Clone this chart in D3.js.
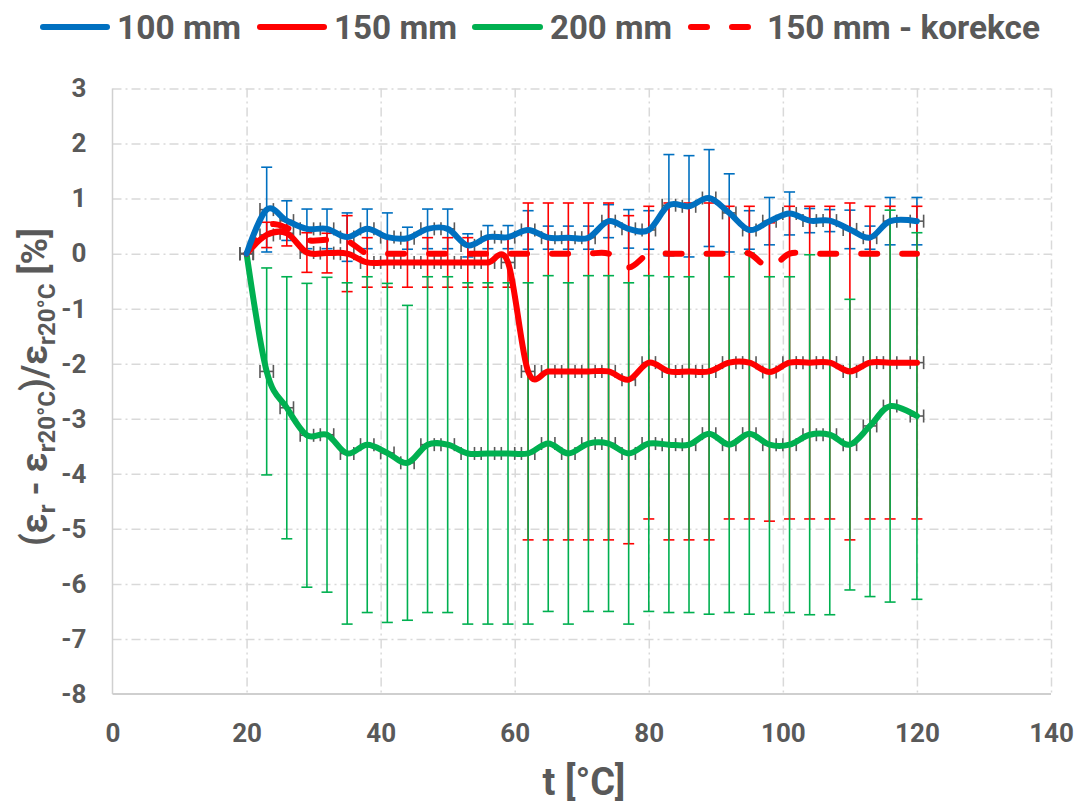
<!DOCTYPE html>
<html>
<head>
<meta charset="utf-8">
<script src="https://cdn.jsdelivr.net/npm/d3@7"></script>
<style>
  body { margin: 0; background: #fff; }
  svg text { font-family: Roboto, 'Open Sans', sans-serif; font-weight: bold; fill: #595959; }
</style>
</head>
<body>
<svg id="chart" width="1076" height="805"></svg>
<script>
// temperatures [°C]
var temps = [20, 23, 26, 29, 32, 35, 38, 41, 44, 47, 50, 53, 56, 59, 62, 65, 68,
  71, 74, 77, 80, 83, 86, 89, 92, 95, 98, 101, 104, 107, 110, 113, 116, 120];

// 100 mm
var val100 = [0, 0.80, 0.60, 0.45, 0.45, 0.30, 0.45, 0.30, 0.28, 0.45, 0.45, 0.15, 0.30, 0.30,
  0.43, 0.29, 0.29, 0.29, 0.59, 0.45, 0.43, 0.88, 0.86, 1.01, 0.74, 0.43, 0.59, 0.73, 0.60,
  0.60, 0.44, 0.29, 0.59, 0.59];
var err100 = [0, 0.77, 0.36, 0.36, 0.36, 0.44, 0.36, 0.44, 0.20, 0.36, 0.36, 0.21, 0.21, 0.21,
  0.35, 0.21, 0.21, 0.21, 0.30, 0.35, 0.35, 0.92, 0.92, 0.88, 0.71, 0.35, 0.43, 0.39, 0.22,
  0.20, 0.35, 0.21, 0.43, 0.43];

// 150 mm
var val150 = [0, 0.34, 0.37, 0.02, 0.01, 0.00, -0.16, -0.16, -0.16, -0.16, -0.16, -0.16, -0.16,
  -0.16, -2.14, -2.14, -2.14, -2.14, -2.14, -2.29, -1.98, -2.14, -2.14, -2.14, -1.98, -1.98,
  -2.15, -1.98, -1.98, -1.98, -2.14, -1.98, -1.98, -1.98];
var err150 = [0, 0.23, 0.23, 0.36, 0.36, 0.69, 0.45, 0.45, 0.45, 0.45, 0.45, 0.45, 0.45, 0.45,
  3.06, 3.06, 3.06, 3.06, 3.06, 2.98, 2.84, 3.06, 3.06, 3.06, 2.84, 2.84, 2.71, 2.84, 2.84,
  2.84, 3.06, 2.84, 2.84, 2.84];

// 200 mm
var val200 = [0, -2.14, -2.80, -3.30, -3.29, -3.63, -3.47, -3.62, -3.80, -3.47, -3.47, -3.63,
  -3.63, -3.63, -3.63, -3.45, -3.63, -3.45, -3.45, -3.63, -3.45, -3.47, -3.47, -3.27, -3.47,
  -3.27, -3.47, -3.47, -3.29, -3.29, -3.47, -3.13, -2.77, -2.95];
var err200 = [0, 1.88, 2.38, 2.76, 2.86, 3.10, 3.05, 3.08, 2.86, 3.05, 3.05, 3.10, 3.10, 3.10,
  3.10, 3.05, 3.10, 3.05, 3.05, 3.10, 3.05, 3.05, 3.05, 3.28, 3.05, 3.28, 3.05, 3.05, 3.27,
  3.27, 2.64, 3.10, 3.56, 3.33];

// 150 mm - korekce
var val150k = [0, 0.50, 0.47, 0.25, 0.25, 0.23, 0.00, 0, 0, 0, 0, 0, 0, 0, 0, 0, 0, 0, 0,
  -0.25, 0, 0, 0, 0, 0, 0, -0.25, 0, 0, 0, 0, 0, 0, 0];

var tempErr = 1.0;

var xTicks = [0, 20, 40, 60, 80, 100, 120, 140];
var yTicks = [-8, -7, -6, -5, -4, -3, -2, -1, 0, 1, 2, 3];

var series = [
  { name: '100 mm', color: '#0070C0', values: val100, errs: err100 },
  { name: '150 mm', color: '#FF0000', values: val150, errs: err150 },
  { name: '200 mm', color: '#00B050', values: val200, errs: err200 },
  { name: '150 mm - korekce', color: '#FF0000', values: val150k, errs: null, dashed: true }
];

var svg = d3.select('#chart');

var x = d3.scaleLinear().domain([0, 140]).range([112.5, 1051]);
var y = d3.scaleLinear().domain([-8, 3]).range([694, 88.5]);

var W = x(140) - x(0), H = y(-8) - y(3);

// gridlines
var gridStyle = function(g) {
  g.select('.domain').remove();
  g.selectAll('.tick line')
    .attr('stroke', '#d9d9d9')
    .attr('stroke-width', 1.5)
    .attr('stroke-dasharray', '9,4,2,4');
};

svg.append('g')
  .attr('transform', 'translate(' + x(0) + ',0)')
  .call(d3.axisLeft(y).tickValues(yTicks.filter(function(d) { return d > -8; })).tickSize(-W).tickFormat(''))
  .call(gridStyle);

svg.append('g')
  .attr('transform', 'translate(0,' + y(3) + ')')
  .call(d3.axisBottom(x).tickValues(xTicks.filter(function(d) { return d > 0; })).tickSize(H).tickFormat(''))
  .call(gridStyle);

// axis lines
svg.append('line')
  .attr('x1', x(0)).attr('x2', x(140)).attr('y1', y(-8)).attr('y2', y(-8))
  .attr('stroke', '#bfbfbf').attr('stroke-width', 1.5);
svg.append('line')
  .attr('x1', x(0)).attr('x2', x(0)).attr('y1', y(3)).attr('y2', y(-8))
  .attr('stroke', '#d0d0d0').attr('stroke-width', 1.5);

// tick labels (plain hyphen for negatives, as in the original)
var plain = function(d) { return String(d); };
var yAxis = svg.append('g')
  .attr('transform', 'translate(' + x(0) + ',0)')
  .call(d3.axisLeft(y).tickValues(yTicks).tickSize(0).tickPadding(26).tickFormat(plain));
var xAxis = svg.append('g')
  .attr('transform', 'translate(0,' + y(-8) + ')')
  .call(d3.axisBottom(x).tickValues(xTicks).tickSize(0).tickPadding(30).tickFormat(plain));
[yAxis, xAxis].forEach(function(g) {
  g.select('.domain').remove();
  g.selectAll('text')
    .attr('fill', '#595959')
    .style('font-family', 'Roboto, sans-serif')
    .style('font-weight', 'bold')
    .style('font-size', '26px');
});

// y error bars
var capW = 5.5;
var errLayer = svg.append('g');
[series[0], series[1], series[2]].forEach(function(s) {
  var g = errLayer.append('g')
    .attr('stroke', s.color)
    .attr('stroke-width', 1.6)
    .attr('fill', 'none');
  temps.forEach(function(t, i) {
    var e = s.errs[i];
    if (!e) return;
    var cx = x(t), top = y(s.values[i] + e), bot = y(s.values[i] - e);
    g.append('line').attr('x1', cx).attr('x2', cx).attr('y1', top).attr('y2', bot);
    g.append('line').attr('x1', cx - capW).attr('x2', cx + capW).attr('y1', top).attr('y2', top);
    g.append('line').attr('x1', cx - capW).attr('x2', cx + capW).attr('y1', bot).attr('y2', bot);
  });
});

// temperature error bars
var tLayer = svg.append('g')
  .attr('stroke', '#595959')
  .attr('stroke-width', 1.6);
[series[0], series[1], series[2]].forEach(function(s) {
  temps.forEach(function(t, i) {
    var cy = y(s.values[i]), l = x(t - tempErr), r = x(t + tempErr);
    tLayer.append('line').attr('x1', l).attr('x2', r).attr('y1', cy).attr('y2', cy);
    tLayer.append('line').attr('x1', l).attr('x2', l).attr('y1', cy - 6.5).attr('y2', cy + 6.5);
    tLayer.append('line').attr('x1', r).attr('x2', r).attr('y1', cy - 6.5).attr('y2', cy + 6.5);
  });
});

// lines
var line = d3.line()
  .x(function(d) { return x(d[0]); })
  .y(function(d) { return y(d[1]); })
  .curve(d3.curveCardinal.tension(0));

[series[2], series[1], series[3], series[0]].forEach(function(s) {
  svg.append('path')
    .datum(temps.map(function(t, i) { return [t, s.values[i]]; }))
    .attr('d', line)
    .attr('fill', 'none')
    .attr('stroke', s.color)
    .attr('stroke-width', 6)
    .attr('stroke-linecap', 'round')
    .attr('stroke-linejoin', 'round')
    .attr('stroke-dasharray', s.dashed ? '16,25' : null);
});

// legend
var legendItems = [
  { s: series[0], x1: 43, x2: 107, tx: 117, tw: 124 },
  { s: series[1], x1: 260, x2: 324, tx: 334, tw: 123 },
  { s: series[2], x1: 475, x2: 540, tx: 550, tw: 122 },
  { s: series[3], x1: 691, x2: 750, tx: 767, tw: 273 }
];
var legend = svg.append('g');
legendItems.forEach(function(it) {
  legend.append('line')
    .attr('x1', it.x1).attr('x2', it.x2).attr('y1', 27).attr('y2', 27)
    .attr('stroke', it.s.color)
    .attr('stroke-width', 6)
    .attr('stroke-linecap', 'round')
    .attr('stroke-dasharray', it.s.dashed ? '16,25' : null);
  legend.append('text')
    .attr('x', it.tx).attr('y', 39)
    .attr('textLength', it.tw)
    .attr('lengthAdjust', 'spacingAndGlyphs')
    .style('font-size', '34px')
    .text(it.s.name);
});

// axis titles
svg.append('text')
  .attr('x', 584)
  .attr('y', 795)
  .attr('text-anchor', 'middle')
  .style('font-size', '38px')
  .text('t [°C]');

var yTitle = svg.append('text')
  .attr('transform', 'translate(47,387) rotate(-90)')
  .attr('text-anchor', 'middle')
  .style('font-size', '36px');
var parts = [
  ['(ε', 0], ['r', 1], [' - ε', 0], ['r20°C', 1], [')/ε', 0], ['r20°C', 1], [' [%]', 0]
];
var shifted = false;
parts.forEach(function(p) {
  var ts = yTitle.append('tspan').text(p[0]);
  if (p[1]) {
    ts.attr('dy', 8).style('font-size', '24px');
    shifted = true;
  } else if (shifted) {
    ts.attr('dy', -8);
    shifted = false;
  }
});
</script>
</body>
</html>
